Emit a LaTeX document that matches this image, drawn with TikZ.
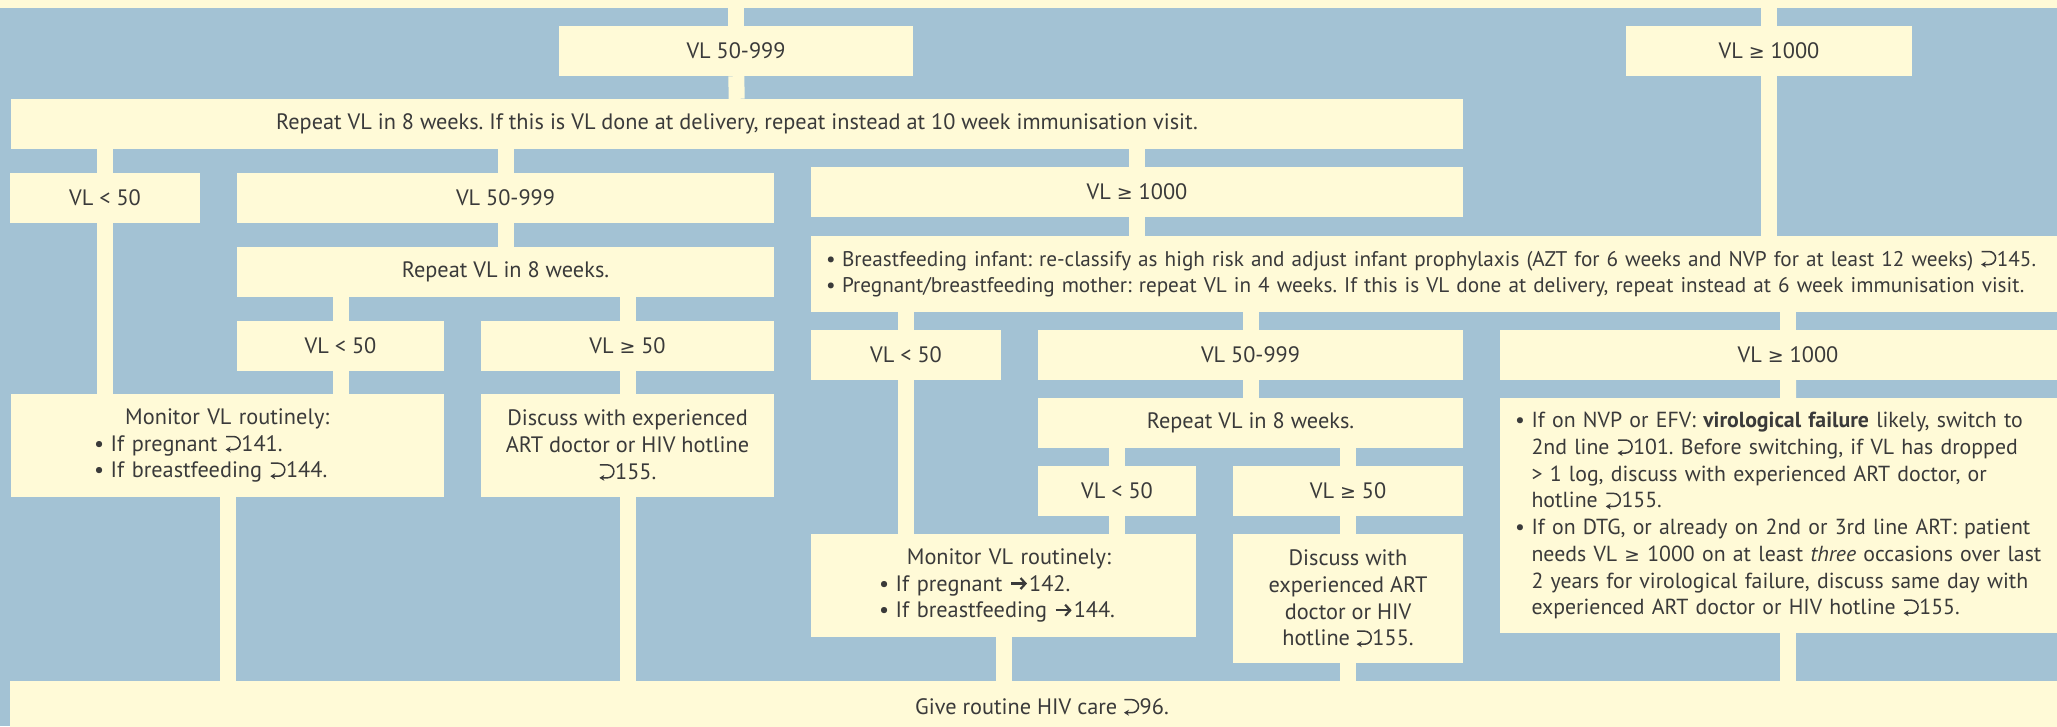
\documentclass[tikz,border=0pt]{standalone}
\usepackage{fontspec}
\setmainfont{PT Sans}
\newfontfamily\symfont[Scale=0.85]{DejaVu Sans}
\usepackage{xcolor}
\usetikzlibrary{arrows.meta}
\frenchspacing

\definecolor{panel}{HTML}{A3C2D4}
\definecolor{cream}{HTML}{FFFAD7}
\definecolor{ink}{HTML}{3A3A3A}
\newcommand{\seeref}{\tikz[x=1pt,y=1pt,baseline=0pt]\draw[ink,line width=1.5pt,-{Stealth[length=5pt,width=6pt]}] (1,14.5) -- (8.5,14.5) arc[start angle=90,end angle=-90,radius=6.5] -- (0.5,1.5);\hspace{0.5pt}}
\newcommand{\goto}{\tikz[x=1pt,y=1pt,baseline=0pt]\draw[ink,line width=2.2pt,-{Straight Barb[length=5pt,width=11pt,line width=2.2pt]}] (0,7.5) -- (16,7.5);\hspace{1pt}}
\newcommand{\gte}{{\symfont ≥}}
\newcommand{\bul}{\makebox[0.75em][l]{\textbullet}}
\newcommand{\hang}{\hspace*{0.75em}}

\begin{document}
\begin{tikzpicture}[
  x=1pt, y=-1pt,
  every node/.style={font=\fontsize{22.3}{26.7}\selectfont, text=ink},
  flowbox/.style={fill=cream, inner sep=0pt, align=center, minimum height=50pt},
  notebox/.style={fill=cream, inner xsep=15pt, inner ysep=0pt, align=left},
  link/.style={draw=cream, line width=16pt}
]
\fill[panel] (0,0) rectangle (2057,726);
\useasboundingbox (0,0) rectangle (2057,726);

% top level
\node[flowbox, minimum width=2057pt, minimum height=8pt] (prev) at (1028.5,4) {};
\node[flowbox, minimum width=354pt] (top1) at (736,51) {VL 50-999};
\node[flowbox, minimum width=286pt] (top2) at (1769,51) {VL \gte{} 1000};
\node[flowbox, minimum width=1452pt] (rep1) at (737,124) {Repeat VL in 8 weeks. If this is VL done at delivery, repeat instead at 10 week immunisation visit.};

% second level
\node[flowbox, minimum width=190pt] (lowA) at (105,198) {VL < 50};
\node[flowbox, minimum width=537pt] (midA) at (505.5,198) {VL 50-999};
\node[flowbox, minimum width=652pt] (highA) at (1137,192) {VL \gte{} 1000};
\node[notebox, anchor=west, text width=1300pt, minimum height=76pt, font=\fontsize{21.2}{26.7}\selectfont] (infant) at (811,274)
  {\bul Breastfeeding infant: re-classify as high risk and adjust infant prophylaxis (AZT for 6 weeks and NVP for at least 12 weeks) \seeref145.\\
   \bul Pregnant/breastfeeding mother: repeat VL in 4 weeks. If this is VL done at delivery, repeat instead at 6 week immunisation visit.};

% left branch
\node[flowbox, minimum width=537pt] (rep2) at (505.5,272) {Repeat VL in 8 weeks.};
\node[flowbox, minimum width=207pt] (lowB) at (340.5,346) {VL < 50};
\node[flowbox, minimum width=293pt] (highB) at (627.5,346) {VL \gte{} 50};
\node[notebox, inner xsep=83pt, text width=267pt, minimum height=103pt] (monA) at (227.5,445.5)
  {\hspace*{1.4em}Monitor VL routinely:\\
   \bul If pregnant \seeref141.\\
   \bul If breastfeeding \seeref144.};
\node[flowbox, minimum width=293pt, minimum height=103pt] (discA) at (627.5,445.5)
  {Discuss with experienced\\ART doctor or HIV hotline\\\seeref155.};

% right branch
\node[flowbox, minimum width=190pt] (lowC) at (906,355) {VL < 50};
\node[flowbox, minimum width=425pt] (midC) at (1250.5,355) {VL 50-999};
\node[flowbox, minimum width=576pt] (highC) at (1788,355) {VL \gte{} 1000};
\node[flowbox, minimum width=425pt] (rep3) at (1250.5,423) {Repeat VL in 8 weeks.};
\node[flowbox, minimum width=158pt] (lowD) at (1117,491) {VL < 50};
\node[flowbox, minimum width=230pt] (highD) at (1348,491) {VL \gte{} 50};
\node[notebox, inner xsep=68pt, text width=249pt, minimum height=103pt] (monB) at (1003.5,585.5)
  {\hspace*{1.25em}Monitor VL routinely:\\
   \bul If pregnant \goto142.\\
   \bul If breastfeeding \goto144.};
\node[flowbox, minimum width=230pt, minimum height=129pt] (discB) at (1348,598.5)
  {Discuss with\\experienced ART\\doctor or HIV\\hotline \seeref155.};
\node[notebox, anchor=north west, text width=546pt, minimum height=235pt, font=\fontsize{21.8}{26.7}\selectfont] (fail) at (1500,398)
  {\bul If on NVP or EFV: \textbf{virological failure} likely, switch to\\
   \hang 2nd line \seeref101. Before switching, if VL has dropped\\
   \hang > 1 log, discuss with experienced ART doctor, or\\
   \hang hotline \seeref155.\\
   \bul If on DTG, or already on 2nd or 3rd line ART: patient\\
   \hang needs VL \gte{} 1000 on at least \textit{three} occasions over last\\
   \hang 2 years for virological failure, discuss same day with\\
   \hang experienced ART doctor or HIV hotline \seeref155.};

% bottom
\node[flowbox, minimum width=2064pt, minimum height=52pt] (care) at (1042,707) {Give routine HIV care \seeref96.};

% connectors
\draw[link] (top1.north |- prev.south) -- (top1.north);
\draw[link] (top2.north |- prev.south) -- (top2.north);
\draw[link] (top1) -- (rep1);
\draw[link] (lowA.north |- rep1.south) -- (lowA.north);
\draw[link] (midA.north |- rep1.south) -- (midA.north);
\draw[link] (highA.north |- rep1.south) -- (highA.north);
\draw[link] (top2.south) -- (top2.south |- infant.north);
\draw[link] (highA.south) -- (highA.south |- infant.north);
\draw[link] (lowA.south) -- (lowA.south |- monA.north);
\draw[link] (midA) -- (rep2);
\draw[link] (lowB.north |- rep2.south) -- (lowB.north);
\draw[link] (highB.north |- rep2.south) -- (highB.north);
\draw[link] (lowB.south) -- (lowB.south |- monA.north);
\draw[link] (highB) -- (discA);
\draw[link] (monA.south) -- (monA.south |- care.north);
\draw[link] (discA.south) -- (discA.south |- care.north);
\draw[link] (lowC.north |- infant.south) -- (lowC.north);
\draw[link] (midC.north |- infant.south) -- (midC.north);
\draw[link] (highC.north |- infant.south) -- (highC.north);
\draw[link] (lowC.south) -- (lowC.south |- monB.north);
\draw[link] (midC) -- (rep3);
\draw[link] (lowD.north |- rep3.south) -- (lowD.north);
\draw[link] (highD.north |- rep3.south) -- (highD.north);
\draw[link] (lowD.south) -- (lowD.south |- monB.north);
\draw[link] (highD) -- (discB);
\draw[link] (monB.south) -- (monB.south |- care.north);
\draw[link] (discB.south) -- (discB.south |- care.north);
\draw[link] (highC) -- (fail);
\draw[link] (fail.south) -- (fail.south |- care.north);
\end{tikzpicture}
\end{document}
